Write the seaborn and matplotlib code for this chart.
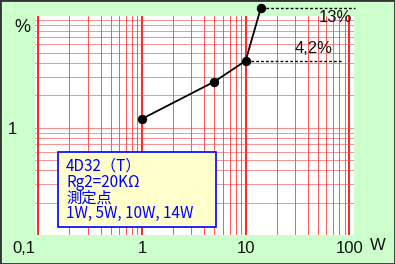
import matplotlib
matplotlib.use("Agg")
import matplotlib.pyplot as plt
import matplotlib.transforms as mtransforms
import seaborn as sns
import pandas as pd
import numpy as np
from matplotlib.patches import Rectangle

# data
power_w = [1, 5, 10, 14]
distortion_pct = [1.21, 2.69, 4.2, 13]
x_ticks = [0.1, 1, 10, 100]
x_tick_labels = ["0,1", "1", "10", "100"]
legend_lines = ["4D32（T）", "Rg2=20KΩ", "測定点", "1W, 5W, 10W, 14W"]
marked_values = [4.2, 13]
marked_labels = ["4,2%", "13%"]

sns.set_theme(style="white")
plt.rcParams['font.family'] = ['Liberation Sans', 'Noto Sans CJK JP', 'DejaVu Sans']

W, H = 395, 264
fig = plt.figure(figsize=(W / 100, H / 100), dpi=100)
fig.patch.set_facecolor("#ccffcc")

ax = fig.add_axes([35 / W, (H - 235) / H, (354 - 35) / W, (235 - 16) / H])
ax.set_facecolor("white")
ax.set_xscale("log")
ax.set_yscale("log")
ax.set_xlim(0.093, 111)
ax.set_ylim(0.1, 11)
for s in ax.spines.values():
    s.set_visible(False)

df = pd.DataFrame({"P": power_w, "D": distortion_pct})
sns.lineplot(data=df, x="P", y="D", ax=ax, color="black", lw=1.3,
             marker="o", markersize=6, markeredgecolor="black", zorder=5)
for line in ax.lines:
    line.set_clip_on(False)

ax.xaxis.set_major_locator(matplotlib.ticker.FixedLocator(x_ticks))
ax.xaxis.set_minor_locator(matplotlib.ticker.LogLocator(base=10, subs=np.arange(2, 10)))
ax.yaxis.set_major_locator(matplotlib.ticker.FixedLocator([1]))
ax.yaxis.set_minor_locator(matplotlib.ticker.LogLocator(base=10, subs=np.arange(1, 10)))
ax.grid(True, which="major", axis="x", color="#ff0000", lw=1.2)
ax.grid(True, which="minor", axis="x", color="#ff2020", lw=0.7, alpha=0.75)
ax.grid(True, which="major", axis="y", color="#f04848", lw=0.8, alpha=0.6)
ax.grid(True, which="minor", axis="y", color="#f04848", lw=0.7, alpha=0.6)
ax.set_axisbelow(True)

ax.set_xticklabels(x_tick_labels)
ax.set_yticklabels(["1"])
ax.yaxis.set_minor_formatter(matplotlib.ticker.NullFormatter())
ax.xaxis.set_minor_formatter(matplotlib.ticker.NullFormatter())
ax.tick_params(axis="both", which="both", length=0, labelsize=12, colors="#111111")
ax.tick_params(axis="x", pad=4)
ax.tick_params(axis="y", pad=13)
first = ax.xaxis.get_major_ticks()[0].label1
first.set_horizontalalignment("right")
first.set_transform(first.get_transform() + mtransforms.ScaledTranslation(-3 / 100, 0, fig.dpi_scale_trans))
ax.set_xlabel("")
ax.set_ylabel("")

# dashed reference lines
ax.plot([power_w[2], 86], [marked_values[0]] * 2, ls=(0, (2, 1.5)), color="black", lw=1, clip_on=False)
ax.plot([power_w[3], 113], [marked_values[1]] * 2, ls=(0, (2, 1.5)), color="black", lw=1, clip_on=False)
fig.text(295 / W, 1 - 48 / H, marked_labels[0], fontsize=12, va="center", ha="left", color="#111111")
fig.text(319 / W, 1 - 18 / H, marked_labels[1], fontsize=12, va="center", ha="left", color="#111111")

fig.text(22 / W, 1 - 28 / H, "%", fontsize=13, va="center", ha="center", color="#111111")
fig.text(378 / W, 1 - 245 / H, "W", fontsize=12, va="center", ha="center", color="#111111")

# legend box
fig.patches.append(Rectangle((58 / W, 1 - 227 / H), (216 - 58) / W, (227 - 152) / H,
                             transform=fig.transFigure, facecolor="#ffffcc",
                             edgecolor="#0000ff", lw=1.2, zorder=10))
fig.text(66 / W, 1 - 190 / H, "\n".join(legend_lines), fontsize=11, color="#0000ff",
         va="center", ha="left", zorder=11, linespacing=0.92,
         family=['Noto Sans CJK JP', 'DejaVu Sans'])

# figure border
fig.patches.append(Rectangle((0, 0), 1, 1, transform=fig.transFigure, fill=False,
                             edgecolor="#333333", lw=2, zorder=20))

fig.savefig("out.png", dpi=100)
